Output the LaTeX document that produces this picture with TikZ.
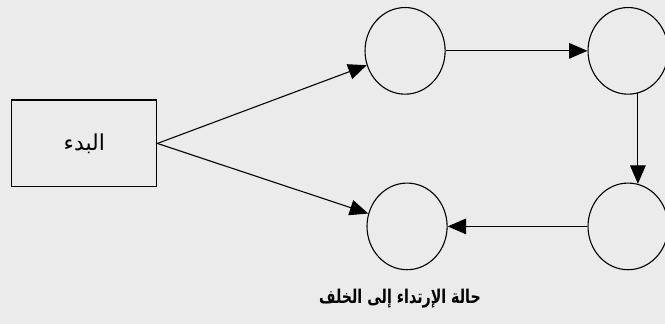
\documentclass[tikz,border=0pt]{standalone}
\usepackage{fontspec}
\newfontfamily\arabicfont[Script=Arabic]{DejaVu Sans}
\newfontfamily\captionfont[Script=Arabic, FakeStretch=0.75]{DejaVu Sans}
\TeXXeTstate=1
\usepackage{xcolor}
\usetikzlibrary{arrows.meta, shapes.geometric}

\begin{document}
\begin{tikzpicture}[
    box/.style={draw, line width=1.1pt, minimum width=5.1cm, minimum height=3.06cm, font=\arabicfont\fontsize{22}{25}\selectfont},
    state/.style={draw, ellipse, line width=1.1pt, minimum width=2.82cm, minimum height=3.05cm},
    arr/.style={-{Triangle[length=6.5mm, width=5.5mm]}, line width=1.1pt},
    >=Triangle
]
% background and size
\fill[black!8] (0,0) rectangle (23.41,11.40);
\useasboundingbox (0,0) rectangle (23.41,11.40);

% start box
\node[box] (start) at (2.97, 6.35) {\beginR البدء\endR};

% states
\node[state] (top1) at (14.26, 9.61) {};
\node[state] (top2) at (22.11, 9.61) {};
\node[state] (bot1) at (14.33, 3.43) {};
\node[state] (bot2) at (22.11, 3.43) {};

% connectors
\draw[arr] (start.east) -- (top1);
\draw[arr] (start.east) -- (bot1);
\draw[arr] (top1) -- (top2);
\draw[arr] (top2.-77) -- (bot2.77);
\draw[arr] (bot2) -- (bot1);

% caption
\node[font=\captionfont\bfseries\fontsize{19}{22}\selectfont] (caption) at (14.08, 0.9) {\beginR حالة الإرتداء إلى الخلف\endR};

\end{tikzpicture}
\end{document}
